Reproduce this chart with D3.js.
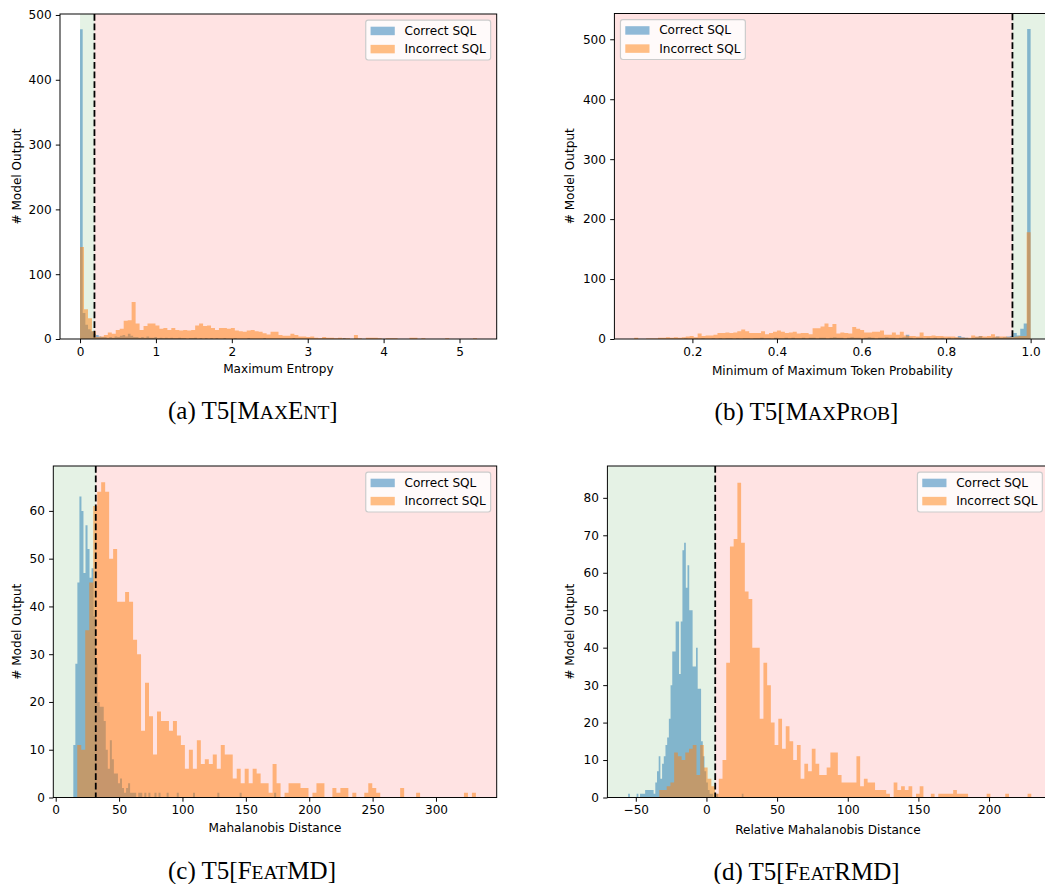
<!DOCTYPE html>
<html><head><meta charset="utf-8">
<script src="https://cdn.jsdelivr.net/npm/d3@7"></script>
<style>
html,body{margin:0;padding:0;background:#fff;}
svg{display:block;}
</style></head><body>
<svg id="chart" width="1045" height="884"></svg>
<script>
// ================= DATA =================
const seriesNames = ["Correct SQL", "Incorrect SQL"];
const yAxisTitle = "# Model Output";

// (a) Maximum Entropy
const aXTitle = "Maximum Entropy";
const aCorrectBinStart = 0, aCorrectBinWidth = 0.035;
const aCorrectCounts = [478,40,22,15,12,8,6,4,3,3,2,
  3,2,4,3,5,6,4,8,5,3, 3,2,3,2,4,2,2,3,1,2,
  1,2,1,2,1,1,2,1,1,0, 1,1,2,0,1,0,1,0,1,0,
  1,0,0,1,0,0,0,1,0,0, 0,0,1,0,0,0,0,0,1,0, 0,0,0,0,0,0,0,0,0,1,
  0,0,0,0,0,0,0,0,0,0, 0,0,0,0,0,0,0,0,1];
const aIncorrectBinStart = 0, aIncorrectBinWidth = 0.0523;
const aIncorrectCounts = [142,46,32,12,
  3,4,6,10,8,14,16,28,29,57, 24,14,20,24,24,21,16,17,14,17,
  14,13,14,13,14,21,24,20,21,17, 14,17,17,16,17,13,12,11,13,14,
  12,11,9,7,11,11,6,5,5,8, 6,
  4,4,3,4,2,1,3,2,2,1, 2,1,1,0,6,1,0,2,2,2, 1,0,1,1,1,0,0,0,2,2,
  0,1,0,0,0,0,0,1,0,0, 0,0,0,0,1];
const aThreshold = 0.19;
const aXDomain = [-0.264, 5.49], aYDomain = [0, 501.5];
const aXTicks = [0, 1, 2, 3, 4, 5];
const aYTicks = [0, 100, 200, 300, 400, 500];
const aCaption = ["(a) T5[M", "AX", "E", "NT", "]"];

// (b) Minimum of Maximum Token Probability
const bXTitle = "Minimum of Maximum Token Probability";
const bCorrectBinStart = 0.18, bCorrectBinWidth = 0.0082;
const bCorrectCounts = [1,0,0,1,0,1,0,0,1,0, 1,0,1,1,0,1,0,1,1,0,
  1,1,2,1,1,0,2,1,1,2, 1,2,1,1,2,1,2,2,1,2,
  2,1,2,3,2,2,1,2,3,2, 2,1,2,3,2,1,2,2,3,2,
  2,1,2,3,7,2,1,2,2,1, 2,1,2,1,2,1,2,1,2,5,
  3,2,1,2,3,5,2,2,2,3, 4,2,3,4,5,10,6,17,26,517];
const bIncorrectBinStart = 0.0624, bIncorrectBinWidth = 0.009376;
const bIncorrectCounts = [2,0,0,1,1,1,2,2,3,2, 3,2,3,4,5,3,9,5,6,6,
  7,10,10,11,10,11,13,16,13,10, 10,10,13,8,10,12,14,12,10,11,
  12,9,10,10,8,18,18,21,26,20, 25,9,11,10,9,20,17,15,11,11,
  12,12,14,7,7,11,7,12,6,5, 5,4,11,5,5,6,5,5,4,4,
  4,3,2,2,2,6,4,5,4,5, 8,4,4,4,3,3,4,5,5,178];
const bThreshold = 0.957;
const bXDomain = [0.0155, 1.047], bYDomain = [0, 543];
const bXTicks = [0.2, 0.4, 0.6, 0.8, 1.0];
const bYTicks = [0, 100, 200, 300, 400, 500];
const bCaption = ["(b) T5[M", "AX", "P", "ROB", "]"];

// (c) Mahalanobis Distance
const cXTitle = "Mahalanobis Distance";
const cCorrectBinStart = 13.9, cCorrectBinWidth = 1.6;
const cCorrectCounts = [11,28,45,63,60,47,57,52,46,48,
  38,28,20,19,19,16,10,6,12,8, 5,5,3,4,2,1,2,3,1,1,
  1,0,1,1,0,1,0,1,0,0, 1,0,1,0,0,0,1,0,0,0,
  0,1,0,0,0,0,0,0,0,1, 0,0,0,0,0,0,0,0,0,0,
  0,1,0,0,0,0,0,0,0,0, 0,0,1,0,0,0,0,0,0,0, 0,0,0,0,0,0,0,0,0,1];
const cIncorrectBinStart = 17.0, cIncorrectBinWidth = 3.145;
const cIncorrectCounts = [11,10,35,45,61,64,66,64,50,52,
  41,41,43,41,33,30,14,24,17,9, 18,16,16,14,16,13,11,6,10,6,
  12,7,8,7,9,6,11,9,9,4, 6,3,6,3,6,5,3,3,1,7,
  3,0,1,3,3,3,2,2,0,1, 3,3,0,0,2,1,2,2,0,1,
  0,0,1,3,2,1,0,0,0,0, 0,2,0,0,0,1,0,0,0,0, 0,0,0,0,0,0,0,1,0,1];
const cThreshold = 31.6;
const cXDomain = [-1.9, 347.9], cYDomain = [0, 69.4];
const cXTicks = [0, 50, 100, 150, 200, 250, 300];
const cYTicks = [0, 10, 20, 30, 40, 50, 60];
const cCaption = ["(c) T5[F", "EAT", "MD]", "", ""];

// (d) Relative Mahalanobis Distance
const dXTitle = "Relative Mahalanobis Distance";
const dCorrectBinStart = -55.4, dCorrectBinWidth = 1.2;
const dCorrectCounts = [1,0,0,0,0,1,0,1,1,1, 2,2,2,2,2,1,4,7,11,5,
  9,11,14,16,21,30,39,39,47,47, 33,47,66,68,56,62,50,50,35,35,
  40,29,29,15,11,7,4,2,1,1, 0,0,1,0,0,0,0,0,0,0,
  0,0,0,0,0,0,0,1,0,0, 0,0,0,0,0,0,0,0,0,0,
  0,0,0,0,0,0,0,0,0,0, 0,0,0,0,0,0,0,0,0,0];
const dIncorrectBinStart = -33.4, dIncorrectBinWidth = 2.633;
const dIncorrectCounts = [2,2,3,4,12,11,10,12,13,14, 6,14,8,5,3,1,5,10,36,67,
  69,84,68,55,53,40,40,21,36,30, 20,14,21,13,19,15,10,14,5,9,
  7,13,9,6,6,8,12,12,6,4, 4,4,4,11,3,5,4,4,2,2,
  2,1,0,4,2,3,2,3,0,1, 3,0,0,1,0,1,1,1,1,2,
  1,1,1,0,0,0,0,0,1,0, 0,0,0,1,0,0,0,0,0,1];
const dThreshold = 6.2;
const dXDomain = [-70.1, 242], dYDomain = [0, 88.5];
const dXTicks = [-50, 0, 50, 100, 150, 200];
const dYTicks = [0, 10, 20, 30, 40, 50, 60, 70, 80];
const dCaption = ["(d) T5[F", "EAT", "RMD]", "", ""];

// ================= LAYOUT / STYLE =================
const FS = 12.1;
const FONT = "DejaVu Sans, sans-serif";
const COLORS = {correct: "#1f77b4", incorrect: "#ff7f0e", green: "rgba(0,128,0,0.1)", red: "rgba(255,0,0,0.11)"};

const panels = [
  {correct:[aCorrectBinStart,aCorrectBinWidth,aCorrectCounts], incorrect:[aIncorrectBinStart,aIncorrectBinWidth,aIncorrectCounts],
   thr:aThreshold, xd:aXDomain, yd:aYDomain, xt:aXTicks, yt:aYTicks, xfmt:d3.format("d"), title:aXTitle, cap:aCaption,
   spans:[[0, aThreshold, "green"], [aThreshold, aXDomain[1], "red"]],
   box:{left:60, right:496.7, top:14, bottom:339}, ylabX:16.7, xlabY:369, capX:252.8, capY:419, legend:"right"},
  {correct:[bCorrectBinStart,bCorrectBinWidth,bCorrectCounts], incorrect:[bIncorrectBinStart,bIncorrectBinWidth,bIncorrectCounts],
   thr:bThreshold, xd:bXDomain, yd:bYDomain, xt:bXTicks, yt:bYTicks, xfmt:d3.format(".1f"), title:bXTitle, cap:bCaption,
   spans:[[bXDomain[0], bThreshold, "red"], [bThreshold, bXDomain[1], "green"]],
   box:{left:614.4, right:1050.5, top:13.5, bottom:339}, ylabX:570.2, xlabY:370.5, capX:806.5, capY:420, legend:"left"},
  {correct:[cCorrectBinStart,cCorrectBinWidth,cCorrectCounts], incorrect:[cIncorrectBinStart,cIncorrectBinWidth,cIncorrectCounts],
   thr:cThreshold, xd:cXDomain, yd:cYDomain, xt:cXTicks, yt:cYTicks, xfmt:d3.format("d"), title:cXTitle, cap:cCaption,
   spans:[[cXDomain[0], cThreshold, "green"], [cThreshold, cXDomain[1], "red"]],
   box:{left:53.3, right:496.7, top:466, bottom:797.5}, ylabX:16.7, xlabY:828.3, capX:252, capY:879, legend:"right"},
  {correct:[dCorrectBinStart,dCorrectBinWidth,dCorrectCounts], incorrect:[dIncorrectBinStart,dIncorrectBinWidth,dIncorrectCounts],
   thr:dThreshold, xd:dXDomain, yd:dYDomain, xt:dXTicks, yt:dYTicks, xfmt:d3.format("d"), title:dXTitle, cap:dCaption,
   spans:[[dXDomain[0], dThreshold, "green"], [dThreshold, dXDomain[1], "red"]],
   box:{left:607.4, right:1048.4, top:466, bottom:797.5}, ylabX:570.2, xlabY:830, capX:806.6, capY:880, legend:"right"}
];

const svg = d3.select("#chart");

panels.forEach((P, pi) => {
  const B = P.box;
  const x = d3.scaleLinear().domain(P.xd).range([B.left, B.right]);
  const y = d3.scaleLinear().domain(P.yd).range([B.bottom, B.top]);
  const g = svg.append("g");
  const clipId = "clip" + pi;
  svg.append("clipPath").attr("id", clipId).append("rect")
    .attr("x", B.left).attr("y", B.top).attr("width", B.right - B.left).attr("height", B.bottom - B.top);
  const plot = g.append("g").attr("clip-path", `url(#${clipId})`);

  // spans
  plot.selectAll("rect.span").data(P.spans).join("rect")
    .attr("x", d => x(d[0])).attr("width", d => x(d[1]) - x(d[0]))
    .attr("y", B.top).attr("height", B.bottom - B.top)
    .attr("fill", d => COLORS[d[2]]);

  // histograms
  const area = d3.area().curve(d3.curveStepAfter)
    .x(d => x(d.e)).y0(y(0)).y1(d => y(d.c));
  [["correct", P.correct], ["incorrect", P.incorrect]].forEach(([key, [start, w, counts]]) => {
    const pts = counts.map((c, i) => ({e: start + i * w, c}));
    pts.push({e: start + counts.length * w, c: counts[counts.length - 1]});
    plot.append("path").datum(pts).attr("d", area)
      .attr("fill", COLORS[key]).attr("fill-opacity", 0.5);
  });

  // threshold line
  plot.append("line").attr("x1", x(P.thr)).attr("x2", x(P.thr)).attr("y1", B.top).attr("y2", B.bottom)
    .attr("stroke", "#000").attr("stroke-width", 1.8).attr("stroke-dasharray", "6.7,2.9");

  // axes
  const xAxis = d3.axisBottom(x).tickValues(P.xt).tickFormat(P.xfmt).tickSize(4.2).tickPadding(4.2);
  const yAxis = d3.axisLeft(y).tickValues(P.yt).tickFormat(d3.format("d")).tickSize(4.2).tickPadding(4.2);
  const gx = g.append("g").attr("transform", `translate(0,${B.bottom})`).call(xAxis);
  const gy = g.append("g").attr("transform", `translate(${B.left},0)`).call(yAxis);
  [gx, gy].forEach(a => {
    a.select(".domain").remove();
    a.selectAll(".tick line").attr("stroke", "#000").attr("stroke-width", 0.97);
    a.selectAll(".tick text").attr("fill", "#000").style("font-family", FONT).style("font-size", FS + "px");
  });

  // spines
  g.append("rect").attr("x", B.left).attr("y", B.top).attr("width", B.right - B.left).attr("height", B.bottom - B.top)
    .attr("fill", "none").attr("stroke", "#000").attr("stroke-width", 0.97);

  // axis titles
  g.append("text").attr("x", (B.left + B.right) / 2).attr("y", P.xlabY).attr("text-anchor", "middle")
    .attr("dominant-baseline", "central").style("font-family", FONT).style("font-size", FS + "px").text(P.title);
  g.append("text").attr("transform", `translate(${P.ylabX},${(B.top + B.bottom) / 2}) rotate(-90)`)
    .attr("text-anchor", "middle").attr("dominant-baseline", "central")
    .style("font-family", FONT).style("font-size", FS + "px").text(yAxisTitle);

  // legend
  const tmp = g.append("text").style("font-family", FONT).style("font-size", FS + "px").text(seriesNames[1]);
  const tw = tmp.node().getComputedTextLength(); tmp.remove();
  const lw = 0.8 * FS + 2 * FS + 0.8 * FS + tw, lh = 3.3 * FS;
  const lx = P.legend === "right" ? B.right - 0.5 * FS - lw : B.left + 0.5 * FS;
  const ly = B.top + 0.5 * FS;
  const lg = g.append("g");
  lg.append("rect").attr("x", lx).attr("y", ly).attr("width", lw).attr("height", lh).attr("rx", 2.4)
    .attr("fill", "#fff").attr("fill-opacity", 0.8).attr("stroke", "#cccccc").attr("stroke-width", 1.2);
  seriesNames.forEach((name, i) => {
    const cy = ly + 0.9 * FS + i * 1.5 * FS;
    lg.append("rect").attr("x", lx + 0.4 * FS).attr("y", cy - 0.35 * FS).attr("width", 2 * FS).attr("height", 0.7 * FS)
      .attr("fill", i === 0 ? COLORS.correct : COLORS.incorrect).attr("fill-opacity", 0.5);
    lg.append("text").attr("x", lx + 3.2 * FS).attr("y", cy).attr("dominant-baseline", "central")
      .style("font-family", FONT).style("font-size", FS + "px").text(name);
  });

  // caption (small caps emulated)
  const cap = svg.append("text").attr("x", P.capX).attr("y", P.capY).attr("text-anchor", "middle")
    .style("font-family", "Liberation Serif, Times New Roman, serif").style("font-size", "25px").attr("fill", "#000");
  P.cap.forEach((part, i) => {
    if (!part) return;
    cap.append("tspan").style("font-size", i % 2 === 1 ? "19.5px" : "25px").text(part);
  });
});
</script>
</body></html>
